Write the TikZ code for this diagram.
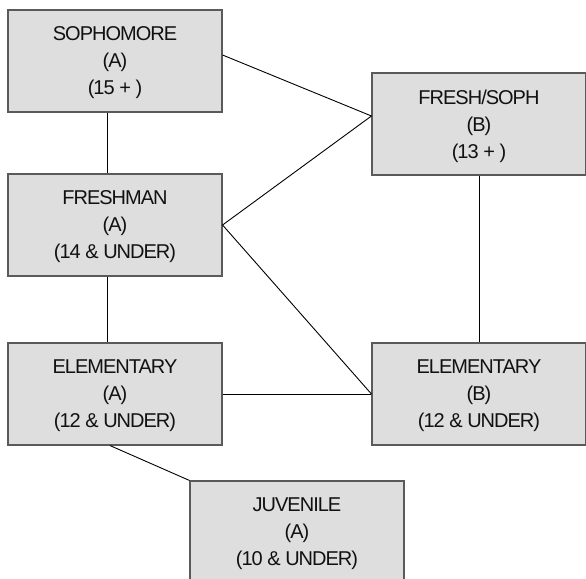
\documentclass[tikz,border=0pt]{standalone}
\usepackage{fontspec}
\setmainfont{Liberation Sans}[LetterSpace=-5]
\definecolor{boxfill}{HTML}{DEDEDE}
\definecolor{boxline}{HTML}{5A5A5A}
\definecolor{boxtext}{HTML}{111111}
\begin{document}
\begin{tikzpicture}[x=1pt,y=1pt,
    division/.style={draw=boxline, fill=boxfill, line width=1.1pt, rectangle,
      minimum width=214pt, minimum height=102pt, inner sep=0pt, align=center,
      text depth=-4pt, text=boxtext, font=\fontsize{20}{27}\selectfont},
    link/.style={line width=0.9pt, black}]
            \useasboundingbox (0,0) rectangle (586,-578);
            \node[division] (soph) at (115,-61) {SOPHOMORE\\(A)\\(15 + )};
            \node[division] (fresh) at (115,-225) {FRESHMAN\\(A)\\(14 \& UNDER)};
            \node[division] (elema) at (115,-394) {ELEMENTARY\\(A)\\(12 \& UNDER)};
            \node[division] (fsoph) at (479,-124) {FRESH/SOPH\\(B)\\(13 + )};
            \node[division] (elemb) at (479,-394) {ELEMENTARY\\(B)\\(12 \& UNDER)};
            \node[division] (juv) at (297,-532) {JUVENILE\\(A)\\(10 \& UNDER)};
            \draw[link] ([xshift=-8pt]soph.south) -- ([xshift=-8pt]fresh.north);
            \draw[link] ([xshift=-8pt]fresh.south) -- ([xshift=-8pt]elema.north);
            \draw[link] ([yshift=6pt]soph.east) -- ([yshift=8pt]fsoph.west);
            \draw[link] (fresh.east) -- ([yshift=8pt]fsoph.west);
            \draw[link] (fresh.east) -- (elemb.west);
            \draw[link] (elema.east) -- (elemb.west);
            \draw[link] (fsoph.south) -- (elemb.north);
            \draw[link] ([xshift=-5pt]elema.south) -- (juv.north west);
        \end{tikzpicture}
\end{document}
